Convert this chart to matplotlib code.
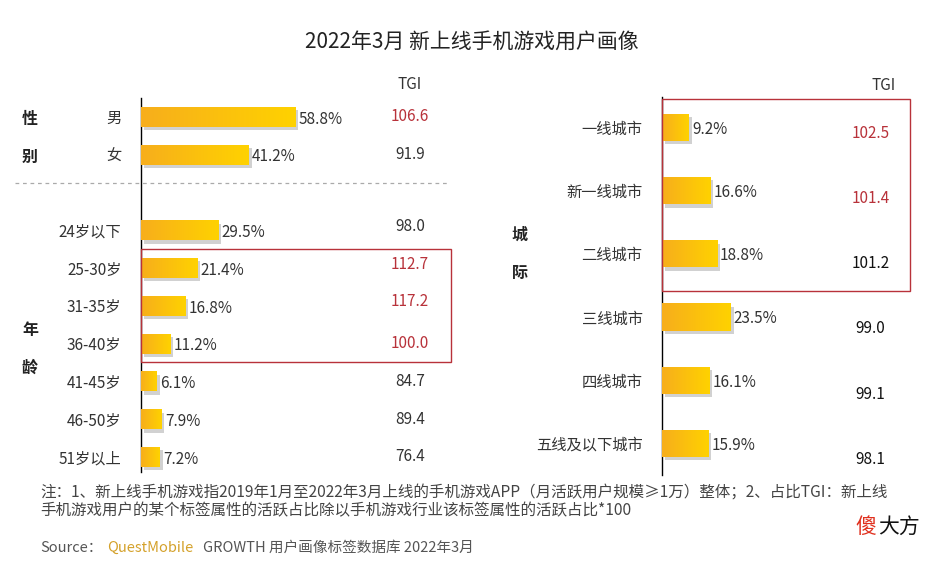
import matplotlib
matplotlib.use("Agg")
import matplotlib.pyplot as plt
import numpy as np
from matplotlib.colors import LinearSegmentedColormap
from matplotlib.patches import Rectangle
from matplotlib.lines import Line2D
import matplotlib.patheffects as pe
from matplotlib.transforms import blended_transform_factory as btf

plt.rcParams['font.family'] = ['Noto Sans CJK SC', 'DejaVu Sans']

# ---------------- data ----------------
gender_labels = ['男', '女']
gender_share = [58.8, 41.2]
gender_tgi = [106.6, 91.9]
gender_hl = [True, False]

age_labels = ['24岁以下', '25-30岁', '31-35岁', '36-40岁', '41-45岁', '46-50岁', '51岁以上']
age_share = [29.5, 21.4, 16.8, 11.2, 6.1, 7.9, 7.2]
age_tgi = [98.0, 112.7, 117.2, 100.0, 84.7, 89.4, 76.4]
age_hl = [False, True, True, True, False, False, False]

city_labels = ['一线城市', '新一线城市', '二线城市', '三线城市', '四线城市', '五线及以下城市']
city_share = [9.2, 16.6, 18.8, 23.5, 16.1, 15.9]
city_tgi = [102.5, 101.4, 101.2, 99.0, 99.1, 98.1]
city_hl = [True, True, False, False, False, False]
city_box_rows = 3

title = '2022年3月 新上线手机游戏用户画像'
note1 = '注：1、新上线手机游戏指2019年1月至2022年3月上线的手机游戏APP（月活跃用户规模≥1万）整体；2、占比TGI：新上线'
note2 = '手机游戏用户的某个标签属性的活跃占比除以手机游戏行业该标签属性的活跃占比*100'

# ---------------- style ----------------
W, H = 945, 565
TXT = '#333333'
RED = '#B8323A'
cmap = LinearSegmentedColormap.from_list('g', ['#F7AE1C', '#FFD200'])
grad = np.linspace(0, 1, 256).reshape(1, -1)

fig = plt.figure(figsize=(W / 100, H / 100), dpi=100)
fig.patch.set_facecolor('white')

def px_axes(x0, y0, x1, y1):
    return fig.add_axes([x0 / W, 1 - y1 / H, (x1 - x0) / W, (y1 - y0) / H])

def draw_bars(ax, pos, vals, height):
    bars = ax.barh(pos, vals, height=height, color='#FCC116', zorder=2,
                   path_effects=[pe.SimplePatchShadow(offset=(2, -2.5), shadow_rgbFace='#9a9a9a', alpha=0.45),
                                 pe.Normal()])
    for b in bars:
        x0, y0 = b.get_xy()
        w, h = b.get_width(), b.get_height()
        im = ax.imshow(grad, extent=(x0, x0 + w, y0 + h, y0), aspect='auto', cmap=cmap,
                       zorder=3, interpolation='bilinear')
        im.set_clip_path(b)
    return bars

def style_ax(ax):
    ax.patch.set_visible(False)
    for s in ['top', 'right', 'bottom']:
        ax.spines[s].set_visible(False)
    ax.spines['left'].set_color('#000000')
    ax.spines['left'].set_linewidth(1.0)
    ax.set_xticks([])
    ax.tick_params(axis='y', length=0, pad=14, labelsize=11, labelcolor=TXT)

# ---------------- left panel ----------------
axL = px_axes(141, 98, 451, 472)
style_ax(axL)
left_labels = gender_labels + age_labels
left_share = gender_share + age_share
left_tgi = gender_tgi + age_tgi
left_hl = gender_hl + age_hl
left_pos = list(range(len(gender_labels))) + [len(gender_labels) + 1 + i for i in range(len(age_labels))]
draw_bars(axL, left_pos, left_share, 0.53)
axL.set_xlim(0, 118.3)
axL.set_ylim(9.4, -0.5)
axL.set_yticks(left_pos)
axL.set_yticklabels(left_labels)
for p, v in zip(left_pos, left_share):
    axL.text(v + 1.2, p + 0.06, f'{v:.1f}%', va='center', ha='left', fontsize=11, color=TXT, zorder=4)
trL = btf(axL.transAxes, axL.transData)
for p, t, hl in zip(left_pos, left_tgi, left_hl):
    axL.text(0.868, p - (0.1 if 3 <= p <= 5 else 0.0), f'{t:.1f}', transform=trL, ha='center', va='center',
             fontsize=11, color=RED if hl else TXT)
axL.text(0.868, -0.85, 'TGI', transform=trL, ha='center', va='center', fontsize=11, color=TXT)
# highlight box
hl_idx = [p for p, h in zip(left_pos, left_hl) if h and p >= 3]
axL.add_patch(Rectangle((0, min(hl_idx) - 0.5), 1, max(hl_idx) - min(hl_idx) + 1, transform=trL,
                        fill=False, edgecolor=RED, lw=1.0, zorder=5, clip_on=False))
# dashed separator
trF = btf(fig.transFigure, axL.transData)
fig.add_artist(Line2D([15 / W, 447 / W], [1.76, 1.76], transform=trF, color='#aaaaaa', lw=0.9,
                      ls=(0, (3, 3))))
# group labels
axL.text(30 / W, 0.05, '性', transform=trF, ha='center', va='center', fontsize=11.5, fontweight='bold', color='#222222')
axL.text(30 / W, 1.05, '别', transform=trF, ha='center', va='center', fontsize=11.5, fontweight='bold', color='#222222')
axL.text(30 / W, 5.65, '年', transform=trF, ha='center', va='center', fontsize=11.5, fontweight='bold', color='#222222')
axL.text(30 / W, 6.65, '龄', transform=trF, ha='center', va='center', fontsize=11.5, fontweight='bold', color='#222222')

# ---------------- right panel ----------------
axR = px_axes(662, 97, 910, 475)
style_ax(axR)
right_pos = list(range(len(city_labels)))
draw_bars(axR, right_pos, city_share, 0.43)
axR.set_xlim(0, 84.6)
axR.set_ylim(5.5, -0.48)
axR.set_yticks(right_pos)
axR.set_yticklabels(city_labels)
for p, v in zip(right_pos, city_share):
    axR.text(v + 1.0, p + 0.03, f'{v:.1f}%', va='center', ha='left', fontsize=11, color=TXT, zorder=4)
trR = btf(axR.transAxes, axR.transData)
for p, t, hl in zip(right_pos, city_tgi, city_hl):
    axR.text(0.84, p + 0.1 + 0.03 * p, f'{t:.1f}', transform=trR, ha='center', va='center',
             fontsize=11, color=RED if hl else '#111111')
axR.text(0.895, -0.66, 'TGI', transform=trR, ha='center', va='center', fontsize=11, color=TXT)
axR.add_patch(Rectangle((0, -0.45), 1, city_box_rows + 0.04, transform=trR,
                        fill=False, edgecolor=RED, lw=1.0, zorder=5, clip_on=False))
trGR = btf(fig.transFigure, axR.transData)
axR.text(520 / W, 1.7, '城', transform=trGR, ha='center', va='center', fontsize=11.5, fontweight='bold', color='#222222')
axR.text(520 / W, 2.3, '际', transform=trGR, ha='center', va='center', fontsize=11.5, fontweight='bold', color='#222222')

# ---------------- texts ----------------
fig.text(472 / W, 1 - 42 / H, title, ha='center', va='center', fontsize=15, fontweight='medium', color='#222222')
fig.text(40 / W, 1 - 493 / H, note1, ha='left', va='center', fontsize=11.2, color='#444444')
fig.text(40 / W, 1 - 511 / H, note2, ha='left', va='center', fontsize=11.2, color='#444444')
fig.text(40 / W, 1 - 548 / H, 'Source：', ha='left', va='center', fontsize=10.5, color='#555555')
fig.text(107 / W, 1 - 548 / H, 'QuestMobile', ha='left', va='center', fontsize=10.5, color='#D4A12A')
fig.text(203 / W, 1 - 548 / H, 'GROWTH 用户画像标签数据库 2022年3月', ha='left', va='center', fontsize=10.5, color='#555555')
fig.text(855 / W, 1 - 527 / H, '傻', ha='left', va='center', fontsize=15, color='#E0301E')
fig.text(878 / W, 1 - 527 / H, '大方', ha='left', va='center', fontsize=15, color='#111111')

fig.savefig('out.png', dpi=100, facecolor='white')
